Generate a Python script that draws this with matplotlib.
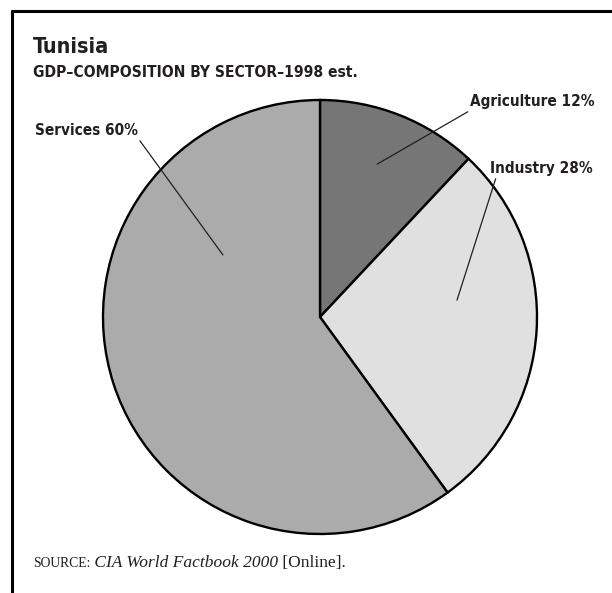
import numpy as np
import matplotlib
matplotlib.use("Agg")
import matplotlib.pyplot as plt
from matplotlib.lines import Line2D

#%%

# Data
sectors = ["Agriculture", "Industry", "Services"]
shares = [12, 28, 60]
sectorColors = ["#767676", "#e0e0e0", "#ababab"]

title = "Tunisia"
subtitle = "GDP\u2013COMPOSITION BY SECTOR\u20131998 est."

#%%

# Image resolution (pixels = inches * dpi)
dpi = 100
W, H = 612, 593
textColor = "#231f20"
sansBold = ["DejaVu Sans"]
serif = ["Liberation Serif", "DejaVu Serif"]
stretch = "condensed"

fig = plt.figure(figsize=(W / dpi, H / dpi), dpi=dpi)

# frame: top and left rules only
fig.add_artist(Line2D([11 / W, 1], [1 - 10.5 / H, 1 - 10.5 / H],
                      transform=fig.transFigure, color="black", lw=2.2,
                      solid_capstyle="butt"))
fig.add_artist(Line2D([12 / W, 12 / W], [0, 1 - 9.5 / H],
                      transform=fig.transFigure, color="black", lw=2.2,
                      solid_capstyle="butt"))

#%%

# pie centre (320, 317) px from top, radius 217 px
cx, cy, r = 320, 317, 217
ax = fig.add_axes([(cx - r) / W, (H - cy - r) / H, 2 * r / W, 2 * r / H])
wedges, _ = ax.pie(shares, colors=sectorColors, startangle=90, counterclock=False,
                   radius=1.0,
                   wedgeprops=dict(edgecolor="black", linewidth=1.7, clip_on=False))
ax.set_xlim(-1, 1)
ax.set_ylim(-1, 1)
ax.set_aspect("equal")
ax.axis("off")

#%%

# labels with leader lines: (angle deg, radius) of inner end, text pos (px from top), align, relpos
labelLayout = {
    "Agriculture": (69.5, 0.752, (594, 106), "right", (0.025, 0.0)),
    "Industry": (7.0, 0.636, (593, 173), "right", (0.06, 0.0)),
    "Services": (147.4, 0.531, (35, 135), "left", (1.0, 0.0)),
}
for name, share in zip(sectors, shares):
    ang, rad, (tx, ty), ha, relpos = labelLayout[name]
    px = rad * np.cos(np.radians(ang))
    py = rad * np.sin(np.radians(ang))
    ax.annotate("{0} {1}%".format(name, share), xy=(px, py), xycoords="data",
                xytext=(tx, H - ty), textcoords="figure pixels",
                ha=ha, va="baseline", fontsize=11, fontweight="bold",
                family=sansBold, fontstretch=stretch, color=textColor,
                arrowprops=dict(arrowstyle="-", color="#231f20", lw=0.9,
                                shrinkA=0, shrinkB=0, relpos=relpos))

#%%

# titles
fig.text(33 / W, 1 - 53 / H, title, fontsize=15.5, fontweight="bold",
         family=sansBold, fontstretch=stretch, color=textColor,
         va="baseline", ha="left")
fig.text(33 / W, 1 - 77 / H, subtitle, fontsize=11.2, fontweight="bold",
         family=sansBold, fontstretch=stretch, color=textColor,
         va="baseline", ha="left")

# source line
t1 = fig.text(33 / W, 1 - 567 / H, "SOURCE:", fontsize=9.8, family=serif,
              color=textColor, va="baseline", ha="left")
t2 = fig.text(0, 0, " CIA World Factbook 2000", fontsize=12.5, family=serif,
              style="italic", color=textColor, va="baseline", ha="left")
t3 = fig.text(0, 0, " [Online].", fontsize=12.5, family=serif,
              color=textColor, va="baseline", ha="left")
renderer = fig.canvas.get_renderer()
x = t1.get_window_extent(renderer).x1
t2.set_position((x / W, 1 - 567 / H))
x = t2.get_window_extent(renderer).x1
t3.set_position((x / W, 1 - 567 / H))

plt.savefig("out.png", dpi=dpi)
